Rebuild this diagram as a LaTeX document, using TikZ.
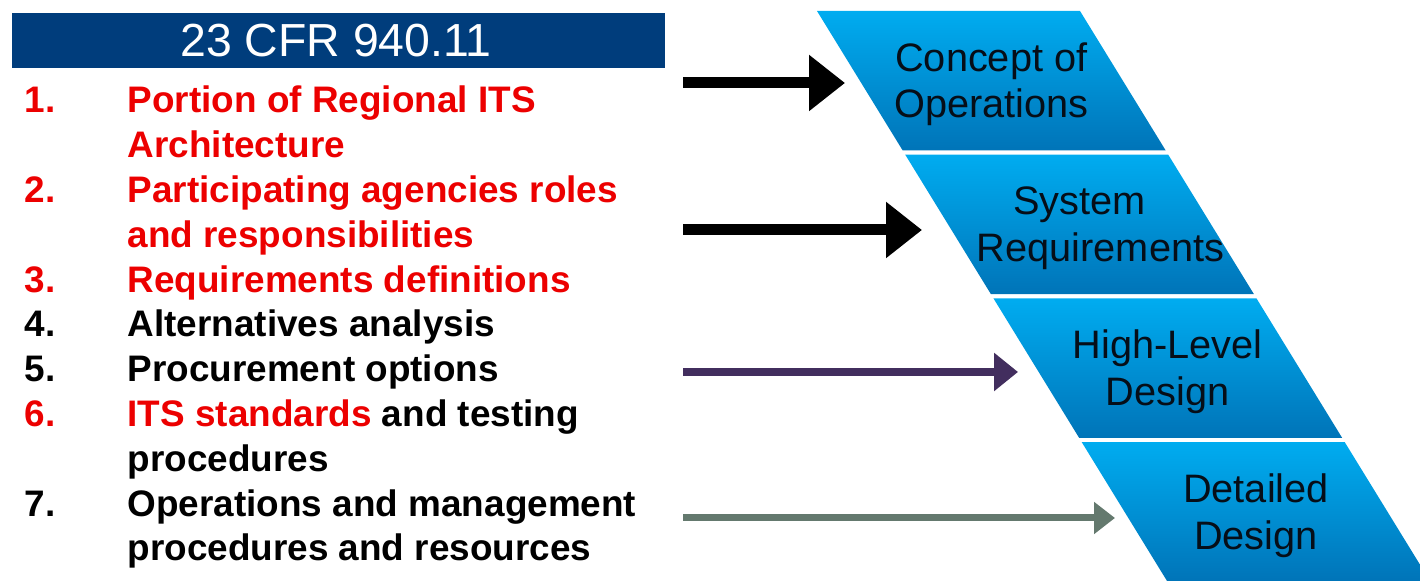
\documentclass[tikz,border=0pt]{standalone}
\usepackage{fontspec}
\setmainfont{Liberation Sans}
\usetikzlibrary{arrows.meta,calc}

\definecolor{bannerBlue}{RGB}{0,61,124}
\definecolor{boxTop}{RGB}{0,172,240}
\definecolor{boxMid}{RGB}{0,150,220}
\definecolor{boxBottom}{RGB}{0,116,184}
\definecolor{stageText}{RGB}{6,14,24}
\definecolor{itemRed}{RGB}{236,0,0}
\definecolor{arrowPurple}{RGB}{66,46,94}
\definecolor{arrowGrey}{RGB}{100,121,110}
\newcommand{\redtxt}[1]{\textcolor{itemRed}{#1}}

\begin{document}
\begin{tikzpicture}
  [every node/.style={inner sep=0pt},
   stage/.style={font=\fontsize{11.3}{13.2}\selectfont, text=stageText, align=center},
   item/.style={font=\fontsize{10.5}{12.75}\selectfont\bfseries, anchor=base west},
   bigarrow/.style={line width=1.1mm, -{Triangle[length=3.6mm, width=5.4mm]}}]

  \useasboundingbox (0,0) rectangle (14.2,5.81);
  \clip (0,0) rectangle (14.2,5.81);

  % title bar
  \fill [bannerBlue] (0.12,5.13) rectangle (6.65,5.68);
  \node [text=white, font=\fontsize{13.2}{15}\selectfont] (title) at (3.36,5.405) {23 CFR 940.11};

  % numbered requirements, one node per printed line
  \foreach \num/\txt [count=\k] in {
      {\redtxt{1.}}/{\redtxt{Portion of Regional ITS}},
      {}/{\redtxt{Architecture}},
      {\redtxt{2.}}/{\redtxt{Participating agencies roles}},
      {}/{\redtxt{and responsibilities}},
      {\redtxt{3.}}/{\redtxt{Requirements definitions}},
      {4.}/{Alternatives analysis},
      {5.}/{Procurement options},
      {\redtxt{6.}}/{\redtxt{ITS standards} and testing},
      {}/{procedures},
      {7.}/{Operations and management},
      {}/{procedures and resources}}
  {
    \node [item] (num\k) at (0.24,{4.68-0.448*(\k-1)}) {\num};
    \node [item] (item\k) at (1.27,{4.68-0.448*(\k-1)}) {\txt};
  }

  % slanted stage bands, each with its own shading
  \foreach \name/\txt [count=\k from 0] in {
      con/{Concept of\\Operations},
      req/{System\\\hspace*{4.2mm}Requirements},
      hld/{High-Level\\Design},
      dd/{Detailed\\Design}}
  {
    \coordinate (S\k) at ({8.17+0.8823*\k},{5.70-1.437*\k});
    \shade [top color=boxTop, middle color=boxMid, bottom color=boxBottom]
      (S\k) -- ++(2.63,0) -- ++(0.857,-1.395) -- ++(-2.63,0) -- cycle;
    \node [stage] (\name) at ($(S\k)+(1.743,-0.735)$) {\txt};
  }

  % arrows into the stages
  \coordinate (A1) at (6.83,4.98);
  \coordinate (A2) at (6.83,3.51);
  \coordinate (A3) at (6.83,2.09);
  \coordinate (A4) at (6.83,0.63);
  \path (A1) ++ (1.62,0) coordinate (B1);
  \path (A2) ++ (2.39,0) coordinate (B2);
  \path (A3) ++ (3.35,0) coordinate (B3);
  \path (A4) ++ (4.32,0) coordinate (B4);

  \draw [bigarrow, color=black] (A1) -- (B1);
  \draw [bigarrow, color=black] (A2) -- (B2);
  \draw [line width=0.8mm, color=arrowPurple,
    -{Triangle[length=2.4mm, width=3.7mm]}] (A3) -- (B3);
  \draw [line width=0.7mm, color=arrowGrey,
    -{Triangle[length=2.1mm, width=3.1mm]}] (A4) -- (B4);

\end{tikzpicture}
\end{document}
